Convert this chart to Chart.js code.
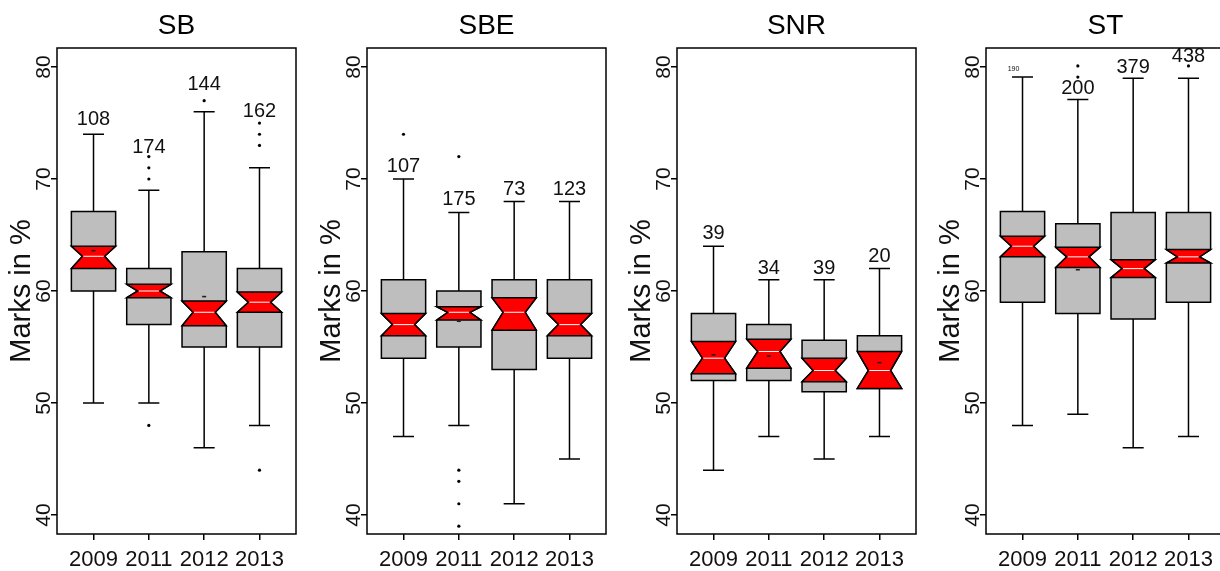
<!DOCTYPE html>
<html>
<head>
<meta charset="utf-8">
<script src="https://cdn.jsdelivr.net/npm/chart.js@4.4.1/dist/chart.umd.min.js"></script>
<style>
  html, body { margin: 0; padding: 0; background: #fff; overflow: hidden; }
  #wrap { position: relative; width: 1220px; height: 571px; overflow: hidden; }
  .panel { position: absolute; top: 0; width: 310px; height: 571px; }
</style>
</head>
<body>
<div id="wrap">
  <div class="panel" style="left:0px"><canvas id="c0" width="310" height="571"></canvas></div>
  <div class="panel" style="left:310px"><canvas id="c1" width="310" height="571"></canvas></div>
  <div class="panel" style="left:620px"><canvas id="c2" width="310" height="571"></canvas></div>
  <div class="panel" style="left:929px"><canvas id="c3" width="310" height="571"></canvas></div>
</div>
<script>
// categories and axis ticks
const years = ['2009', '2011', '2012', '2013'];
const titles = ['SB', 'SBE', 'SNR', 'ST'];
const yTicks = [40, 50, 60, 70, 80];

// SB
const sbLow = [50, 50, 46, 48];
const sbQ1 = [60, 57, 55, 55];
const sbNotchLo = [62, 59.4, 56.9, 58.1];
const sbMedian = [63.1, 60, 58.1, 59];
const sbNotchHi = [64, 60.6, 59.1, 59.9];
const sbQ3 = [67.1, 62, 63.5, 62];
const sbHigh = [74, 69, 76, 71];
const sbOutliers = [[], [70, 71, 72, 48], [77], [73, 74, 75, 44]];
const sbMeans = [63.6, null, 59.5, null];
const sbCounts = ['108', '174', '144', '162'];
const sbCountAt = [75.3, 72.8, 78.4, 76.0];

// SBE
const sbeLow = [47, 48, 41, 45];
const sbeQ1 = [54, 55, 53, 54];
const sbeNotchLo = [56, 57.4, 56.5, 56];
const sbeMedian = [57, 58.1, 58.1, 57];
const sbeNotchHi = [58, 58.6, 59.4, 58];
const sbeQ3 = [61, 60, 61, 61];
const sbeHigh = [70, 67, 68, 68];
const sbeOutliers = [[74], [72, 44, 43, 41, 39], [], []];
const sbeMeans = [null, 57.3, null, null];
const sbeCounts = ['107', '175', '73', '123'];
const sbeCountAt = [71.1, 68.2, 69.1, 69.1];

// SNR
const snrLow = [44, 47, 45, 47];
const snrQ1 = [52, 52, 51, 51.3];
const snrNotchLo = [52.6, 53.1, 51.9, 51.3];
const snrMedian = [54, 54.6, 52.9, 52.9];
const snrNotchHi = [55.5, 55.7, 54, 54.6];
const snrQ3 = [58, 57, 55.6, 56];
const snrHigh = [64, 61, 61, 62];
const snrOutliers = [[], [], [], []];
const snrMeans = [54.3, 54.2, null, 53.6];
const snrCounts = ['39', '34', '39', '20'];
const snrCountAt = [65.1, 62.0, 62.0, 63.1];

// ST
const stLow = [48, 49, 46, 47];
const stQ1 = [59, 58, 57.5, 59];
const stNotchLo = [63.05, 62.1, 61.2, 62.5];
const stMedian = [64, 63.05, 62, 63.05];
const stNotchHi = [64.9, 63.9, 62.8, 63.7];
const stQ3 = [67.1, 66, 67, 67];
const stHigh = [79.1, 77.1, 79, 79];
const stOutliers = [[], [80.1, 79.1], [], [80.1]];
const stMeans = [null, 61.9, null, null];
const stCounts = ['190', '200', '379', '438'];
const stCountAt = [79.8, 78.1, 80.0, 80.9];

const panels = [
  { low: sbLow, q1: sbQ1, nlo: sbNotchLo, med: sbMedian, nhi: sbNotchHi, q3: sbQ3, high: sbHigh, out: sbOutliers, means: sbMeans, counts: sbCounts, countAt: sbCountAt },
  { low: sbeLow, q1: sbeQ1, nlo: sbeNotchLo, med: sbeMedian, nhi: sbeNotchHi, q3: sbeQ3, high: sbeHigh, out: sbeOutliers, means: sbeMeans, counts: sbeCounts, countAt: sbeCountAt },
  { low: snrLow, q1: snrQ1, nlo: snrNotchLo, med: snrMedian, nhi: snrNotchHi, q3: snrQ3, high: snrHigh, out: snrOutliers, means: snrMeans, counts: snrCounts, countAt: snrCountAt },
  { low: stLow, q1: stQ1, nlo: stNotchLo, med: stMedian, nhi: stNotchHi, q3: stQ3, high: stHigh, out: stOutliers, means: stMeans, counts: stCounts, countAt: stCountAt }
];

const FONT = '"Liberation Sans", Arial, Helvetica, sans-serif';
const boxHalf = 0.4;   // R boxwex 0.8
const capHalf = 0.19;
const GREY = '#bebebe';
const RED = '#ff0000';
const LW = 1.5;
// the ST 2009 count is printed tiny in the original
const tinyCount = { panel: 3, index: 0, size: 7 };

function boxPlugin(p, pi) {
  return {
    id: 'notchedBoxes',
    beforeDatasetsDraw(chart) {
      const ctx = chart.ctx;
      const xs = chart.scales.x, ys = chart.scales.y;
      const Y = v => ys.getPixelForValue(v);
      ctx.save();
      ctx.strokeStyle = '#000';
      ctx.lineWidth = LW;
      years.forEach((yr, i) => {
        const cx = xs.getPixelForValue(i + 1);
        const hw = xs.getPixelForValue(i + 1 + boxHalf) - cx;
        const cw = xs.getPixelForValue(i + 1 + capHalf) - cx;

        // whiskers + caps
        ctx.beginPath();
        ctx.moveTo(cx, Y(p.q3[i])); ctx.lineTo(cx, Y(p.high[i]));
        ctx.moveTo(cx - cw, Y(p.high[i])); ctx.lineTo(cx + cw, Y(p.high[i]));
        ctx.moveTo(cx, Y(p.q1[i])); ctx.lineTo(cx, Y(p.low[i]));
        ctx.moveTo(cx - cw, Y(p.low[i])); ctx.lineTo(cx + cw, Y(p.low[i]));
        ctx.stroke();

        // notched grey box
        ctx.beginPath();
        ctx.moveTo(cx - hw, Y(p.q1[i]));
        ctx.lineTo(cx + hw, Y(p.q1[i]));
        ctx.lineTo(cx + hw, Y(p.nlo[i]));
        ctx.lineTo(cx + hw / 2, Y(p.med[i]));
        ctx.lineTo(cx + hw, Y(p.nhi[i]));
        ctx.lineTo(cx + hw, Y(p.q3[i]));
        ctx.lineTo(cx - hw, Y(p.q3[i]));
        ctx.lineTo(cx - hw, Y(p.nhi[i]));
        ctx.lineTo(cx - hw / 2, Y(p.med[i]));
        ctx.lineTo(cx - hw, Y(p.nlo[i]));
        ctx.closePath();
        ctx.fillStyle = GREY;
        ctx.fill();
        ctx.stroke();

        // red notch band
        ctx.beginPath();
        ctx.moveTo(cx - hw, Y(p.nhi[i]));
        ctx.lineTo(cx + hw, Y(p.nhi[i]));
        ctx.lineTo(cx + hw / 2, Y(p.med[i]));
        ctx.lineTo(cx + hw, Y(p.nlo[i]));
        ctx.lineTo(cx - hw, Y(p.nlo[i]));
        ctx.lineTo(cx - hw / 2, Y(p.med[i]));
        ctx.closePath();
        ctx.fillStyle = RED;
        ctx.fill();
        ctx.stroke();

        // median
        ctx.beginPath();
        ctx.strokeStyle = '#fff';
        ctx.lineWidth = 1;
        ctx.moveTo(cx - hw / 2 + 1, Y(p.med[i]));
        ctx.lineTo(cx + hw / 2 - 1, Y(p.med[i]));
        ctx.stroke();
        ctx.strokeStyle = '#000';
        ctx.lineWidth = LW;

        // mean tick
        if (p.means[i] != null) {
          ctx.fillStyle = '#222';
          ctx.fillRect(cx - 2, Y(p.means[i]) - 0.8, 4, 1.6);
        }

        // sample size
        const tiny = pi === tinyCount.panel && i === tinyCount.index;
        ctx.fillStyle = '#111';
        ctx.font = (tiny ? tinyCount.size : 20) + 'px ' + FONT;
        ctx.textAlign = 'center';
        ctx.textBaseline = 'middle';
        ctx.fillText(p.counts[i], tiny ? cx - 9 : cx, Y(p.countAt[i]));
      });
      ctx.restore();
    },
    afterDraw(chart) {
      const a = chart.chartArea;
      const ctx = chart.ctx;
      ctx.save();
      ctx.strokeStyle = '#000';
      ctx.lineWidth = LW;
      ctx.strokeRect(a.left, a.top, a.right - a.left, a.bottom - a.top);
      ctx.restore();
    }
  };
}

panels.forEach((p, pi) => {
  const pts = [];
  p.out.forEach((list, i) => list.forEach(v => pts.push({ x: i + 1, y: v })));

  new Chart(document.getElementById('c' + pi), {
    type: 'scatter',
    data: {
      datasets: [{
        data: pts,
        pointRadius: 1.6,
        pointBackgroundColor: '#000',
        pointBorderWidth: 0
      }]
    },
    plugins: [boxPlugin(p, pi)],
    options: {
      responsive: false,
      animation: false,
      events: [],
      layout: { padding: { left: 0, right: 14, top: 0, bottom: 0 } },
      plugins: {
        legend: { display: false },
        tooltip: { enabled: false },
        title: {
          display: true,
          text: titles[pi],
          fullSize: false,
          color: '#000',
          font: { family: FONT, size: 28, weight: 'normal', lineHeight: 1.2 },
          padding: { top: 9.7, bottom: 4.7 }
        }
      },
      scales: {
        x: {
          type: 'linear',
          min: 0.34,
          max: 4.66,
          afterBuildTicks: s => { s.ticks = years.map((y, i) => ({ value: i + 1 })); },
          afterFit: s => { s.height = 37; },
          grid: { display: true, drawOnChartArea: false, drawTicks: true, tickLength: 6, color: '#000', lineWidth: LW },
          border: { display: false },
          ticks: {
            color: '#111',
            font: { family: FONT, size: 22 },
            padding: 7,
            minRotation: 0,
            maxRotation: 0,
            autoSkip: false,
            callback: v => years[v - 1]
          }
        },
        y: {
          type: 'linear',
          min: 38.3,
          max: 81.7,
          afterBuildTicks: s => { s.ticks = yTicks.map(v => ({ value: v })); },
          afterFit: s => { s.width = 57; },
          grid: { display: true, drawOnChartArea: false, drawTicks: true, tickLength: 6, color: '#000', lineWidth: LW },
          border: { display: false },
          title: {
            display: true,
            text: 'Marks in %',
            color: '#111',
            font: { family: FONT, size: 29 },
            padding: { top: 5, bottom: 0 }
          },
          ticks: {
            color: '#111',
            font: { family: FONT, size: 21 },
            minRotation: 90,
            maxRotation: 90,
            crossAlign: 'center',
            padding: -5
          }
        }
      }
    }
  });
});
</script>
</body>
</html>
